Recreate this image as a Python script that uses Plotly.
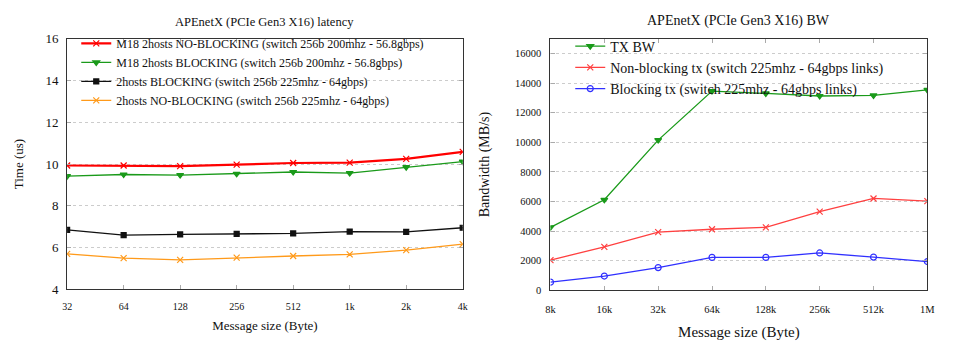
import plotly.graph_objects as go

# ---- Left chart: latency ----
lat_sizes = ["32", "64", "128", "256", "512", "1k", "2k", "4k"]
m18_noblock = [9.93, 9.93, 9.90, 9.97, 10.05, 10.07, 10.25, 10.58]
m18_block = [9.42, 9.50, 9.47, 9.53, 9.62, 9.57, 9.85, 10.12]
h2_block = [6.85, 6.60, 6.63, 6.66, 6.68, 6.77, 6.75, 6.95]
h2_noblock = [5.70, 5.50, 5.41, 5.52, 5.60, 5.68, 5.88, 6.17]
lat_ticks = [4, 6, 8, 10, 12, 14, 16]

# ---- Right chart: bandwidth ----
bw_sizes = ["8k", "16k", "32k", "64k", "128k", "256k", "512k", "1M"]
tx_bw = [4260, 6120, 10150, 13460, 13300, 13130, 13170, 13540]
nonblock_tx = [2050, 2940, 3940, 4130, 4260, 5320, 6210, 6030]
block_tx = [560, 970, 1540, 2230, 2230, 2530, 2250, 1950]
bw_ticks = [0, 2000, 4000, 6000, 8000, 10000, 12000, 14000, 16000]
bw_ticktext = [str(v) for v in bw_ticks]

FONT = "Liberation Serif"
fig = go.Figure()

def add(x, y, name, color, symbol, width, xa, ya, legend, msize=6):
    fig.add_trace(go.Scatter(
        x=x, y=y, name=name, mode="lines+markers",
        line=dict(color=color, width=width),
        marker=dict(symbol=symbol, size=msize, color=color,
                    line=dict(color=color, width=1.2)),
        xaxis=xa, yaxis=ya, legend=legend))

add(lat_sizes, m18_noblock, "M18 2hosts NO-BLOCKING (switch 256b 200mhz - 56.8gbps)", "#ff0000", "x-thin", 2.2, "x", "y", "legend")
add(lat_sizes, m18_block, "M18 2hosts BLOCKING (switch 256b 200mhz - 56.8gbps)", "#1a9a1a", "triangle-down", 1.3, "x", "y", "legend")
add(lat_sizes, h2_block, "2hosts BLOCKING (switch 256b 225mhz - 64gbps)", "#111111", "square", 1.3, "x", "y", "legend", 5)
add(lat_sizes, h2_noblock, "2hosts NO-BLOCKING (switch 256b 225mhz - 64gbps)", "#ff9a1a", "x-thin", 1.3, "x", "y", "legend")

add(bw_sizes, tx_bw, "TX BW", "#1a9a1a", "triangle-down", 1.3, "x2", "y2", "legend2")
add(bw_sizes, nonblock_tx, "Non-blocking tx (switch 225mhz - 64gbps links)", "#ff4040", "x-thin", 1.3, "x2", "y2", "legend2")
add(bw_sizes, block_tx, "Blocking tx (switch 225mhz - 64gbps links)", "#3030ff", "circle-open", 1.3, "x2", "y2", "legend2")

def axis_common(fs):
    return dict(showline=True, linecolor="#333333", linewidth=1.2, mirror="ticks",
                ticks="inside", ticklen=4, tickcolor="#aaaaaa", zeroline=False,
                tickfont=dict(family=FONT, size=fs, color="#111"))

fig.update_layout(
    width=963, height=352, margin=dict(l=0, r=0, t=0, b=0),
    paper_bgcolor="white", plot_bgcolor="white",
    font=dict(family=FONT, color="#111"),
    showlegend=True,
    xaxis=dict(domain=[0.0654, 0.4818], type="category", range=[0, 7], showgrid=False,
               ticklabelstandoff=7,
               title=dict(text="Message size (Byte)", font=dict(family=FONT, size=13), standoff=10),
               anchor="y", **axis_common(10)),
    yaxis=dict(domain=[0.162, 0.906], range=[4, 16], tickvals=lat_ticks,
               showgrid=True, gridcolor="#cccccc", griddash="dot", gridwidth=1,
               ticklabelstandoff=5,
               title=dict(text="Time (us)", font=dict(family=FONT, size=13), standoff=18),
               anchor="x", **axis_common(13)),
    xaxis2=dict(domain=[0.5742, 0.9709], type="category", range=[0, 7], showgrid=False,
                ticklabelstandoff=9,
                title=dict(text="Message size (Byte)", font=dict(family=FONT, size=15), standoff=12),
                anchor="y2", **axis_common(10.5)),
    yaxis2=dict(domain=[0.159, 0.906], range=[0, 17000], tickvals=bw_ticks, ticktext=bw_ticktext,
                showgrid=True, gridcolor="#cccccc", griddash="dot", gridwidth=1,
                ticklabelstandoff=6,
                title=dict(text="Bandwidth (MB/s)", font=dict(family=FONT, size=14), standoff=22),
                anchor="x2", **axis_common(10.5)),
    legend=dict(x=0.075, y=0.935, xanchor="left", yanchor="top", bgcolor="rgba(0,0,0,0)",
                font=dict(family=FONT, size=12), tracegroupgap=0, itemwidth=30),
    legend2=dict(x=0.595, y=0.93, xanchor="left", yanchor="top", bgcolor="rgba(0,0,0,0)",
                 font=dict(family=FONT, size=14), tracegroupgap=0, itemwidth=30),
    annotations=[
        dict(text="APEnetX (PCIe Gen3 X16) latency", x=0.273, y=1 - 16/352, xref="paper", yref="paper",
             xanchor="center", yanchor="middle",
             showarrow=False, font=dict(family=FONT, size=12.5)),
        dict(text="APEnetX (PCIe Gen3 X16) BW", x=0.7725, y=1 - 15/352, xref="paper", yref="paper",
             xanchor="center", yanchor="middle",
             showarrow=False, font=dict(family=FONT, size=14)),
    ],
)

fig.write_html("out.html")
